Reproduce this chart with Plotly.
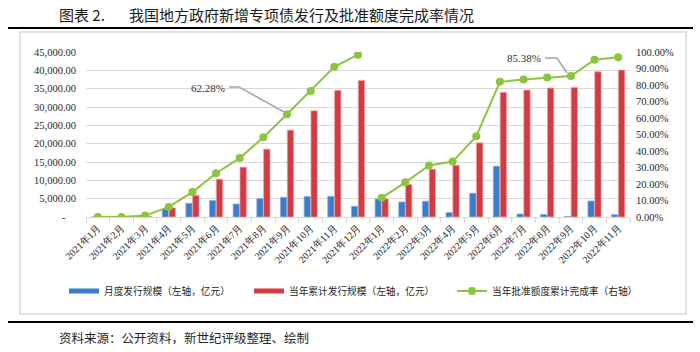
import plotly.graph_objects as go

months = [f"2021年{m}月" for m in range(1, 13)] + [f"2022年{m}月" for m in range(1, 12)]
monthly_issue = [0, 0, 160, 2300, 3740, 4480, 3550, 5030, 5380, 5570, 5650, 2920,
                 4920, 4100, 4290, 1200, 6480, 13850, 820, 700, 150, 4370, 650]
cumulative_issue = [0, 0, 160, 2460, 5930, 10300, 13580, 18500, 23690, 28960, 34530, 37260,
                    4920, 8850, 13030, 14120, 20220, 33990, 34610, 35160, 35350, 39610, 40080]
completion_rate = [0, 0, 0.85, 6.1, 15.1, 26.5, 35.7, 48.3, 62.28, 76.4, 91.0, 98.4,
                   11.6, 21.0, 31.2, 33.6, 48.9, 81.9, 83.3, 84.5, 85.38, 95.3, 96.8]
left_ticks = list(range(0, 45001, 5000))
left_ticktext = ["-\u00a0\u00a0\u00a0\u00a0"] + [f"{v:,.2f}" for v in left_ticks[1:]]
right_ticks = list(range(0, 101, 10))
right_ticktext = [f"{v:.2f}%" for v in right_ticks]

BLUE = "#3d7cc9"
RED = "#d13b42"
GREEN = "#8dc43f"
SERIF = "Liberation Serif"
CJK = "Noto Sans CJK SC"

L, R, T, B = 86, 630, 52, 217
def px(x):
    return (x - L) / (R - L)
def py(y):
    return (B - y) / (B - T)

fig = go.Figure()
fig.add_bar(x=months, y=monthly_issue, name="月度发行规模（左轴，亿元）", legend="legend",
            marker=dict(color=BLUE, line=dict(color="#86b0e0", width=0.8)), showlegend=False)
fig.add_bar(x=months, y=cumulative_issue, name="当年累计发行规模（左轴，亿元）", legend="legend2",
            marker=dict(color=RED, line=dict(color="#eb9a9e", width=0.8)), showlegend=False)
# completion rate, one segment per year (line breaks between years)
fig.add_scatter(x=months[:12], y=completion_rate[:12], yaxis="y2", mode="lines+markers",
                name="当年批准额度累计完成率（右轴）", legend="legend3", legendgroup="rate",
                line=dict(color=GREEN, width=2), marker=dict(size=8, color=GREEN))
fig.add_scatter(x=months[12:], y=completion_rate[12:], yaxis="y2", mode="lines+markers",
                name="当年批准额度累计完成率（右轴）", legend="legend3", legendgroup="rate",
                showlegend=False,
                line=dict(color=GREEN, width=2), marker=dict(size=8, color=GREEN))
# legend swatches for the bar series
fig.add_scatter(x=[None], y=[None], mode="lines", name="月度发行规模（左轴，亿元）",
                line=dict(color=BLUE, width=5), legend="legend")
fig.add_scatter(x=[None], y=[None], mode="lines", name="当年累计发行规模（左轴，亿元）",
                line=dict(color=RED, width=5), legend="legend2")

shapes = [
    dict(type="rect", xref="paper", yref="paper", x0=px(20), x1=px(686), y0=py(32), y1=py(314),
         line=dict(color="#d9d9d9", width=1.5), layer="below"),
    dict(type="line", xref="paper", yref="paper", x0=px(8), x1=px(693), y0=py(28), y1=py(28),
         line=dict(color="#000000", width=2)),
    dict(type="line", xref="paper", yref="paper", x0=px(8), x1=px(693), y0=py(322), y1=py(322),
         line=dict(color="#000000", width=2)),
    dict(type="path", xref="paper", yref="paper",
         path=f"M{px(229)},{py(87)} L{px(239)},{py(87)} L{px(284)},{py(112)}",
         line=dict(color="#a6a6a6", width=1.5)),
    dict(type="path", xref="paper", yref="paper",
         path=f"M{px(545)},{py(58)} L{px(557)},{py(58)} L{px(567)},{py(73)}",
         line=dict(color="#a6a6a6", width=1.5)),
]

annotations = [
    dict(text="图表 2.", x=px(57), y=py(14), xref="paper", yref="paper", xanchor="left",
         yanchor="middle", showarrow=False, font=dict(family=CJK, size=15, color="#1a1a1a")),
    dict(text="我国地方政府新增专项债发行及批准额度完成率情况", x=px(127), y=py(14), xref="paper",
         yref="paper", xanchor="left", yanchor="middle", showarrow=False,
         font=dict(family=CJK, size=15, color="#1a1a1a")),
    dict(text="资料来源：公开资料，新世纪评级整理、绘制", x=px(57), y=py(337), xref="paper",
         yref="paper", xanchor="left", yanchor="middle", showarrow=False,
         font=dict(family=CJK, size=12.5, color="#262626")),
    dict(text="62.28%", x=px(207.5), y=py(88), xref="paper", yref="paper", showarrow=False,
         xanchor="center", yanchor="middle",
         font=dict(family=SERIF, size=11, color="#333333")),
    dict(text="85.38%", x=px(523.5), y=py(58), xref="paper", yref="paper", showarrow=False,
         xanchor="center", yanchor="middle",
         font=dict(family=SERIF, size=11, color="#333333")),
]

legend_common = dict(orientation="h", yanchor="middle", xanchor="left", y=py(291),
                     font=dict(family=CJK, size=9.7, color="#262626"),
                     bgcolor="rgba(0,0,0,0)", itemwidth=30)

fig.update_layout(
    width=700, height=352,
    margin=dict(l=L, r=700 - R, t=T, b=352 - B),
    paper_bgcolor="white", plot_bgcolor="white",
    barmode="group", bargap=0.42, bargroupgap=0.08,
    shapes=shapes, annotations=annotations,
    xaxis=dict(type="category", range=[-0.5, 22.5], showgrid=False, showline=True,
               linecolor="#d9d9d9", linewidth=1, ticks="outside", tickson="boundaries",
               ticklen=5, tickcolor="#d9d9d9", tickangle=-45,
               tickfont=dict(family=SERIF, size=10, color="#262626")),
    yaxis=dict(range=[0, 45000], tickvals=left_ticks, ticktext=left_ticktext,
               showgrid=True, gridcolor="#d9d9d9", gridwidth=1, zeroline=False, showline=False,
               ticks="", ticklabelstandoff=9,
               tickfont=dict(family=SERIF, size=10.5, color="#262626")),
    yaxis2=dict(range=[0, 100], overlaying="y", side="right", tickvals=right_ticks,
                ticktext=right_ticktext, showgrid=False, zeroline=False, showline=False,
                ticks="", ticklabelstandoff=5,
                tickfont=dict(family=SERIF, size=10.5, color="#262626")),
    legend=dict(legend_common, x=px(64)),
    legend2=dict(legend_common, x=px(249)),
    legend3=dict(legend_common, x=px(452)),
    showlegend=True,
)

fig.write_html("out.html")
